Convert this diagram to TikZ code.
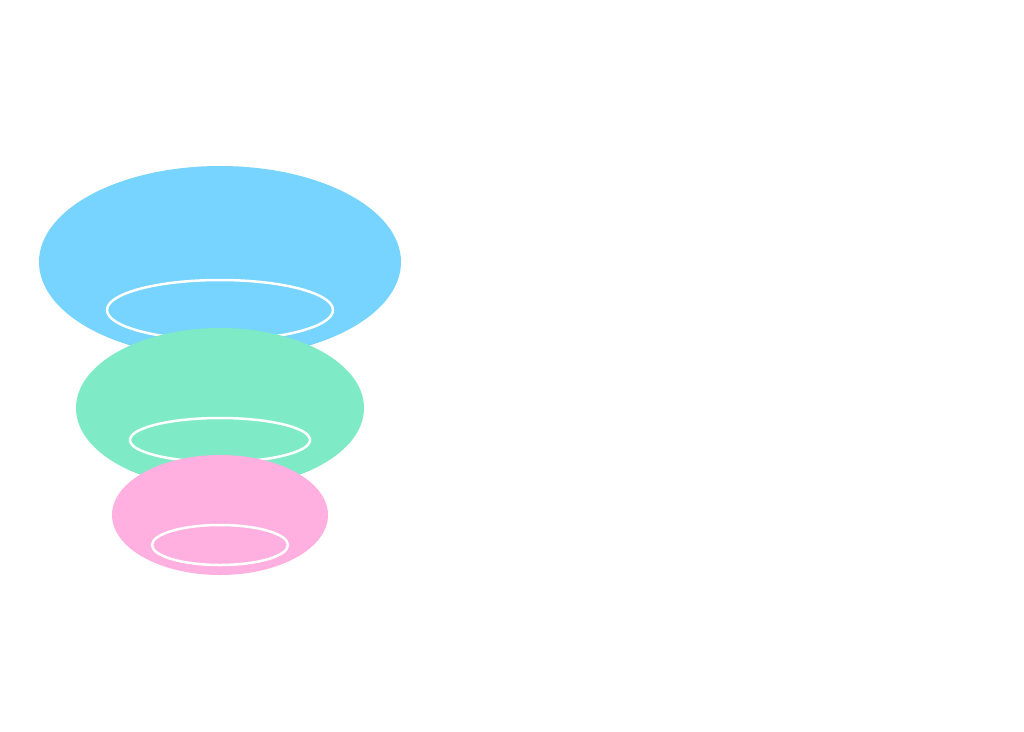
\documentclass[tikz,border=0pt]{standalone}
\usepackage{fontspec}
\setmainfont{Fira Sans}
\definecolor{cblue}{HTML}{76D4FF}
\definecolor{cgreen}{HTML}{7EEBC6}
\definecolor{cpink}{HTML}{FFB0E0}
\begin{document}
\begin{tikzpicture}[x=1pt,y=-1pt,
  ring/.style={draw=white,line width=2.5pt},
  head/.style={anchor=west,text=white,font=\bfseries\fontsize{22}{26}\selectfont},
  body/.style={anchor=north west,text=white,align=left,text width=440pt,font=\fontsize{16}{19}\selectfont},
  icon/.style={draw=white,line width=1.5pt}]
\fill[white] (0,0) rectangle (1024,731);
\useasboundingbox (0,0) rectangle (1024,731);
\node[text=white,font=\bfseries\fontsize{27}{32}\selectfont] (title) at (520,95) {Refining Audience Insights for Targeted Email Marketing};
\fill[cblue] (220,262) ellipse [x radius=181,y radius=96];
\draw[ring] (220,310) ellipse [x radius=113,y radius=30];
\fill[cgreen] (220,408) ellipse [x radius=144,y radius=80];
\draw[ring] (220,440) ellipse [x radius=90,y radius=22];
\fill[cpink] (220,515) ellipse [x radius=108,y radius=60];
\draw[ring] (220,545) ellipse [x radius=68,y radius=20];
\node[head] (h1) at (553,205) {Data Analysis};
\node[body] (b1) at (553,238) {Analyzing collected data to extract meaningful insights};
\node[head] (h2) at (553,385) {Persona Creation};
\node[body] (b2) at (553,418) {Developing buyer personas from analyzed data};
\node[head] (h3) at (553,565) {Insight Application};
\node[body] (b3) at (553,598) {Applying insights to craft targeted email content};
\draw[icon] (460,190) -- (475,175) -- (492,190) -- (500,225) (465,200) -- (470,235);
\draw[icon] (465,380) circle (12) (450,405) -- (455,398) -- (475,398) -- (480,405);
\draw[icon] (445,545) rectangle (500,595) (455,560) rectangle (490,580) (455,560) -- (472,572) -- (490,560);
\end{tikzpicture}
\end{document}
